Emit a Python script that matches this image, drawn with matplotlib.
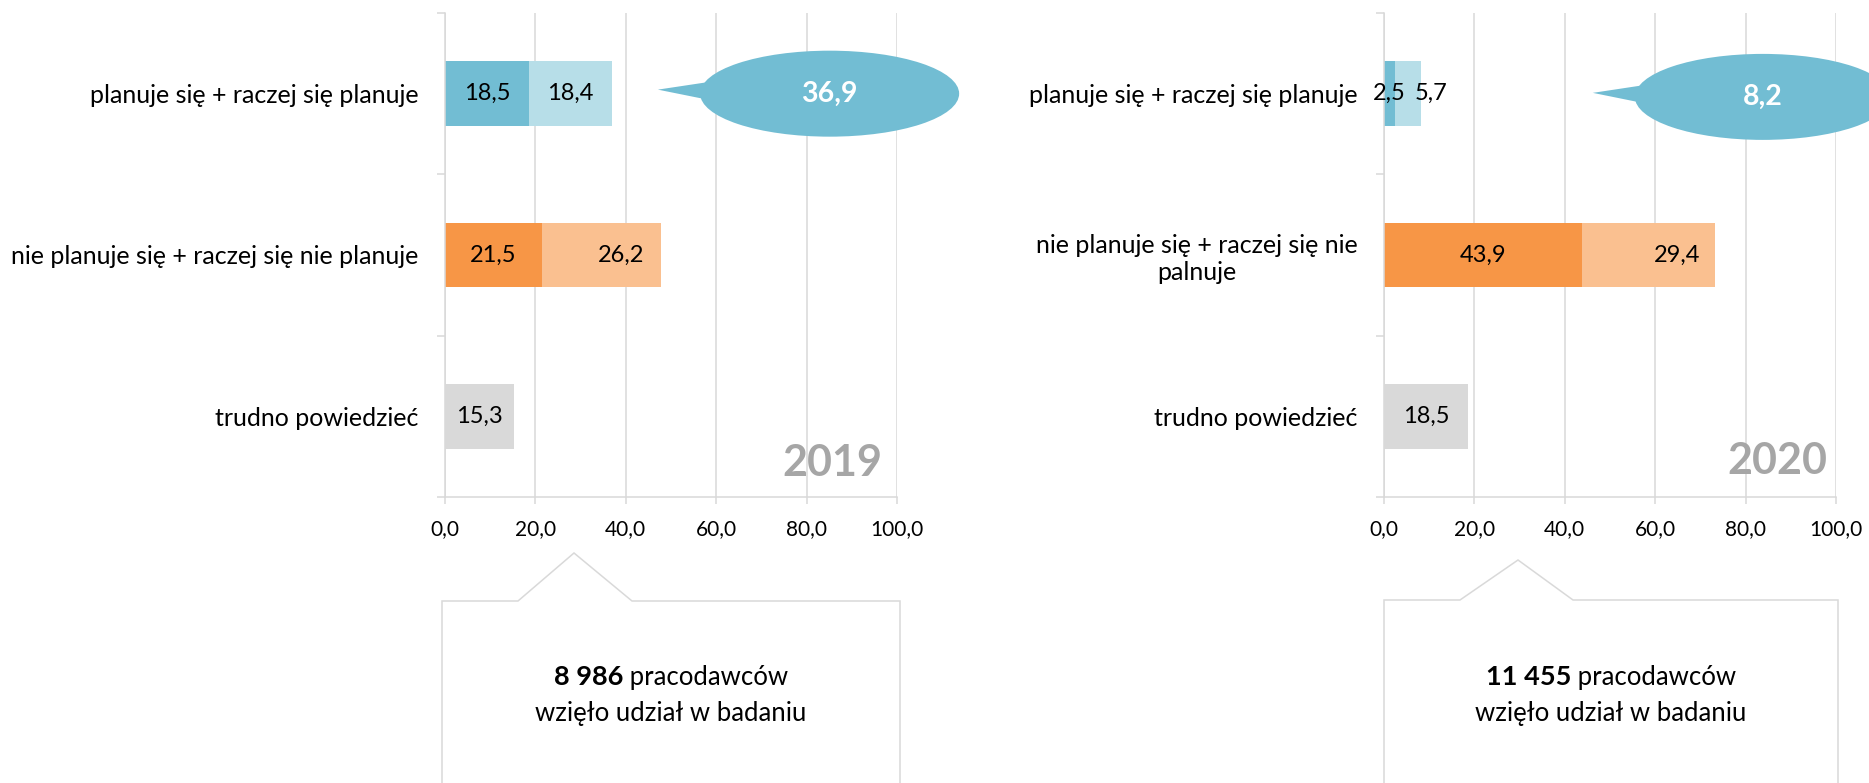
import matplotlib
matplotlib.use("Agg")
import matplotlib.pyplot as plt
import matplotlib.patches as patches
from matplotlib.ticker import FuncFormatter, FixedLocator

plt.rcParams['font.family'] = ['Lato', 'DejaVu Sans']

# data
years = ["2019", "2020"]
categories = [
    ["planuje się + raczej się planuje",
     "nie planuje się + raczej się nie planuje",
     "trudno powiedzieć"],
    ["planuje się + raczej się planuje",
     "nie planuje się + raczej się nie\npalnuje",
     "trudno powiedzieć"],
]
strong_vals = [[18.5, 21.5, 15.3], [2.5, 43.9, 18.5]]
rather_vals = [[18.4, 26.2, 0.0], [5.7, 29.4, 0.0]]
callout_vals = [36.9, 8.2]
respondents = ["8 986", "11 455"]

strong_colors = ["#72BDD3", "#F79646", "#D9D9D9"]
rather_colors = ["#B7DEE8", "#FAC090", "#D9D9D9"]
grid_col = "#D9D9D9"

W, H = 1869, 783
fig = plt.figure(figsize=(W / 100, H / 100), dpi=100)


def fx(x):
    return x / W


def fy(y):
    return 1 - y / H


# panel layout in pixels: (left, right) of plot area
panels = [(445, 897), (1384, 1836)]
top_px, bottom_px = 13, 497
# extra shift (pixels) of the light segment labels
rather_shift = [[0, 20, 0], [23, 28, 0]]
year_pos = [(0.967, 0.043), (0.980, 0.048)]
bubble = [dict(cx=85.1, cy=0.0, w=57.3), dict(cx=83.8, cy=0.02, w=56.6)]
bubble_tip = [47.1, 46.2]
box_px = [dict(l=442, r=900, n1=518, apex=(574, 553), n2=632, top=601),
          dict(l=1384, r=1838, n1=1460, apex=(1518, 560), n2=1573, top=600)]

fmt = FuncFormatter(lambda v, p: f"{v:.1f}".replace(".", ","))
rend = fig.canvas.get_renderer()

for i, (l, r) in enumerate(panels):
    ax = fig.add_axes([fx(l), fy(bottom_px), fx(r) - fx(l), fy(top_px) - fy(bottom_px)])
    y = list(range(len(categories[i])))
    ax.barh(y, strong_vals[i], height=0.4, color=strong_colors, zorder=2)
    ax.barh(y, rather_vals[i], left=strong_vals[i], height=0.4,
            color=rather_colors, zorder=2)
    for j, v in enumerate(strong_vals[i]):
        ax.annotate(f"{v:.1f}".replace(".", ","), (v / 2, j), ha="center", va="center",
                    fontsize=17, color="black", zorder=3)
    for j, v in enumerate(rather_vals[i]):
        if v <= 0:
            continue
        ax.annotate(f"{v:.1f}".replace(".", ","), (strong_vals[i][j] + v / 2, j),
                    xytext=(rather_shift[i][j] * 0.72, 0), textcoords="offset points",
                    ha="center", va="center", fontsize=17, color="black", zorder=3)

    ax.set_xlim(0, 100)
    ax.set_ylim(2.5, -0.5)
    ax.set_yticks(y)
    ax.set_yticklabels(categories[i], fontsize=18, ha="right",
                       multialignment="center")
    ax.yaxis.set_minor_locator(FixedLocator([-0.5, 0.5, 1.5, 2.5]))
    ax.tick_params(axis="y", which="major", length=0, pad=19)
    ax.tick_params(axis="y", which="minor", length=6, width=1.1, color=grid_col)
    ax.xaxis.set_major_locator(FixedLocator([0, 20, 40, 60, 80, 100]))
    ax.xaxis.set_major_formatter(fmt)
    ax.tick_params(axis="x", length=5, width=1.1, color=grid_col, labelsize=15, pad=11)
    ax.grid(axis="x", color=grid_col, lw=1.1, zorder=0)
    for s in ["top", "right"]:
        ax.spines[s].set_visible(False)
    for s in ["left", "bottom"]:
        ax.spines[s].set_color(grid_col)
        ax.spines[s].set_linewidth(1.1)

    # year stamp
    ax.text(year_pos[i][0], year_pos[i][1], years[i], transform=ax.transAxes,
            ha="right", va="baseline", fontsize=31, fontweight="bold", color="#A6A6A6")

    # speech bubble with the total
    bb = bubble[i]
    cx, cy, w = bb["cx"], bb["cy"], bb["w"]
    ax.add_patch(patches.Ellipse((cx, cy), w, 0.533, facecolor="#72BDD3",
                                 edgecolor="none", clip_on=False, zorder=4))
    ax.add_patch(patches.Polygon([(bubble_tip[i], cy - 0.025),
                                  (cx - 0.485 * w, cy - 0.068), (cx - 0.4 * w, cy - 0.068),
                                  (cx - 0.4 * w, cy + 0.031), (cx - 0.49 * w, cy + 0.031)],
                                 closed=True, facecolor="#72BDD3", edgecolor="none",
                                 clip_on=False, zorder=4))
    ax.text(cx, cy, f"{callout_vals[i]:.1f}".replace(".", ","), ha="center",
            va="center", fontsize=20.5, fontweight="bold", color="white", zorder=5,
            clip_on=False)

    # box with the respondents count
    bx = box_px[i]
    pts = [(bx["l"], 800), (bx["l"], bx["top"]), (bx["n1"], bx["top"]), bx["apex"],
           (bx["n2"], bx["top"]), (bx["r"], bx["top"]), (bx["r"], 800)]
    fig.add_artist(patches.Polygon([(fx(a), fy(b)) for a, b in pts], closed=False,
                                   fill=False, edgecolor=grid_col, lw=1.1,
                                   transform=fig.transFigure))
    mid = (bx["l"] + bx["r"]) / 2
    t1 = fig.text(0, fy(677), respondents[i], fontsize=19.5, fontweight="bold",
                  ha="left", va="center")
    t2 = fig.text(0, fy(677), " pracodawców", fontsize=18.5, ha="left", va="center")
    w1 = t1.get_window_extent(rend).width
    w2 = t2.get_window_extent(rend).width
    start = mid - (w1 + w2) / 2
    t1.set_x(fx(start))
    t2.set_x(fx(start + w1))
    fig.text(fx(mid), fy(714), "wzięło udział w badaniu", fontsize=18.5,
             ha="center", va="center")

fig.savefig("out.png", dpi=100)
